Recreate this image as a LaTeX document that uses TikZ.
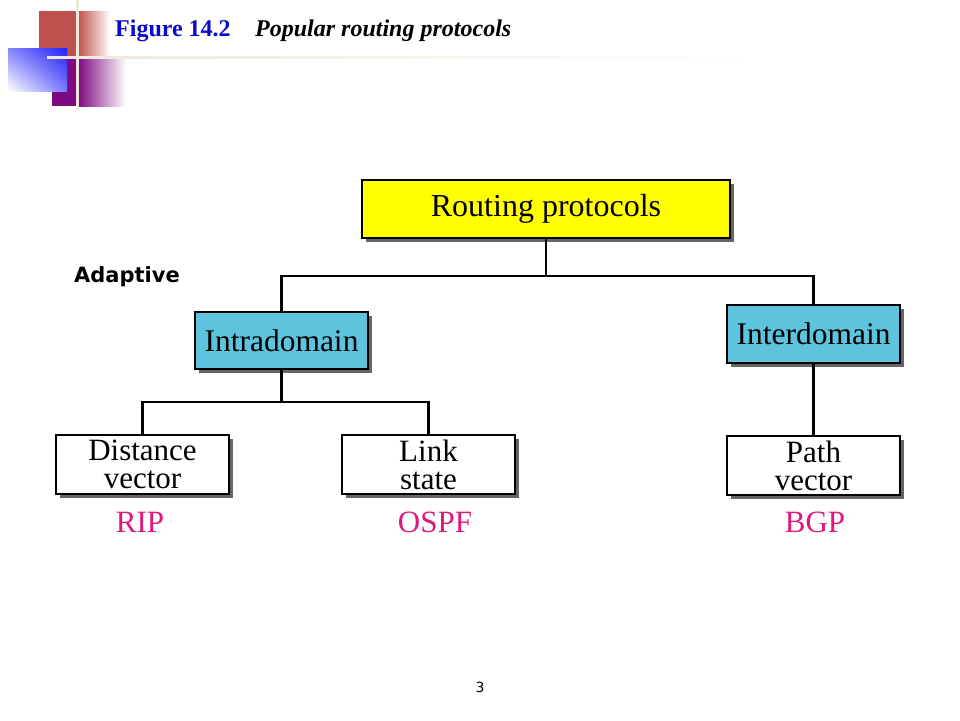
\documentclass[tikz,border=0pt]{standalone}
\usepackage{fontspec}
\setmainfont{Liberation Serif}
\newfontfamily\dvsans{DejaVu Sans}
\usetikzlibrary{positioning,shadings}
\definecolor{boxyellow}{HTML}{FFFF00}
\definecolor{boxblue}{HTML}{5EC3DC}
\definecolor{protopink}{HTML}{E0187A}
\definecolor{titleblue}{HTML}{0A0ACC}
\definecolor{decored}{HTML}{C0504D}
\definecolor{decopurple}{HTML}{7E0A82}
\definecolor{decoblue}{HTML}{2020F8}
\definecolor{decoline}{HTML}{EEE8DA}
\tikzset{
  boxbase/.style={draw=black, line width=2pt, rectangle, inner sep=0pt, align=center,
    minimum width=173pt, font=\fontsize{31}{28}\selectfont,
    preaction={fill=black!60, transform canvas={shift={(3.5pt,-3.5pt)}}}},
  topbox/.style={boxbase, fill=boxyellow, minimum width=368pt, minimum height=58pt, font=\fontsize{32}{32}\selectfont},
  midbox/.style={boxbase, fill=boxblue, minimum height=57pt, font=\fontsize{31.5}{31.5}\selectfont},
  leafbox/.style={boxbase, fill=white, minimum height=59pt},
  proto/.style={text=protopink, font=\fontsize{31}{31}\selectfont, inner sep=0pt},
  conn/.style={draw=black, line width=2.5pt}
}
\begin{document}
\begin{tikzpicture}[x=1pt, y=-1pt]
\useasboundingbox[fill=white] (0,0) rectangle (960,720);
% decoration
\fill[decored] (39,11) rectangle (76,57);
\shade[left color=decored, right color=white] (78,11) rectangle (110,57);
\fill[decopurple] (52,59) rectangle (76,106);
\shade[left color=decopurple, right color=white] (78,59) rectangle (126,106);
\shade[upper right=decoblue, upper left=decoblue!55, lower right=decoblue!60, lower left=white] (8,48) rectangle (67,91);
\fill[decoline] (76,0) rectangle (79,110);
\shade[left color=decoline, right color=white] (47,56) rectangle (760,58.5);
% title
\node[anchor=base west, inner sep=0pt, text=titleblue, font=\fontsize{24}{24}\selectfont\bfseries] (fig) at (115,36) {Figure 14.2};
\node[anchor=base west, inner sep=0pt, font=\fontsize{24}{24}\selectfont\bfseries\itshape] (cap) at (255,36) {Popular routing protocols};
% boxes
\node[topbox] (routing) at (546,209) {Routing protocols};
\node[midbox] (intra) at (281.5,340.5) {Intradomain};
\node[midbox, minimum height=58pt] (inter) at (813.5,334) {Interdomain};
\node[leafbox] (dist) at (142.5,464.5) {Distance\\vector};
\node[leafbox] (link) at (428.5,464.5) {Link\\state};
\node[leafbox] (path) at (813.5,465.5) {Path\\vector};
% connectors
\coordinate (j1) at (546,276);
\coordinate (j2) at (281.5,402);
\draw[conn] (routing.south) -- (j1);
\draw[conn] (intra.north) |- (j1) -| (inter.north);
\draw[conn] (intra.south) -- (j2);
\draw[conn] (dist.north) |- (j2) -| (link.north);
\draw[conn] (inter.south) -- (path.north);
% protocol labels
\node[proto] (rip) at (140,522) {RIP};
\node[proto] (ospf) at (435,522) {OSPF};
\node[proto] (bgp) at (815,522) {BGP};
% side label and page number
\node[anchor=base west, inner sep=0pt, font=\dvsans\bfseries\fontsize{21}{21}\selectfont] (adaptive) at (74,282) {Adaptive};
\node[inner sep=0pt, font=\dvsans\fontsize{14}{14}\selectfont] (pagenum) at (480,687) {3};
\end{tikzpicture}
\end{document}
